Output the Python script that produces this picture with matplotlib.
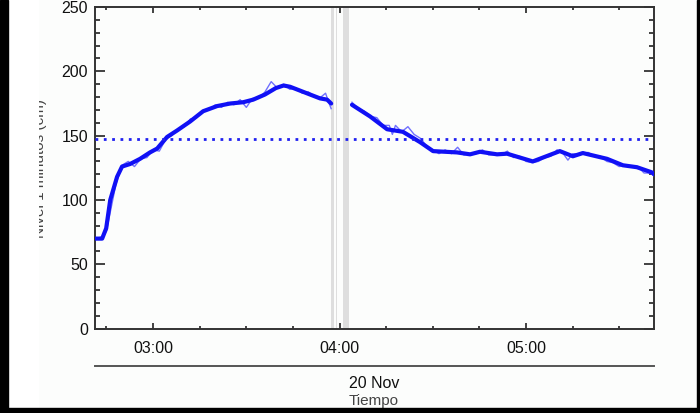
import numpy as np
import matplotlib
matplotlib.use("Agg")
import matplotlib.pyplot as plt
from matplotlib.ticker import MultipleLocator, FixedLocator
from matplotlib.lines import Line2D
from matplotlib.patches import Rectangle

# tiempo en minutos desde 00:00 del 20 Nov
raw_t1 = [161.5, 163, 164, 165, 166, 168, 170, 172, 174, 176, 178, 180, 182, 184, 186, 188, 190, 192,
          194, 196, 198, 200, 202, 204, 206, 208, 210, 212, 214, 216, 218, 220, 222, 224, 226, 228,
          230, 232, 234, 235.5, 236.5, 237.3]
raw_v1 = [70, 71, 72, 76, 88, 112, 127, 130, 126, 132, 133, 139, 138, 147, 150, 155, 157, 163,
          164, 169, 170, 174, 172, 176, 174, 178, 172, 179, 179, 184, 192, 187, 190, 186, 187, 183,
          184, 180, 180, 183, 176, 171]
raw_t2 = [244, 246, 248, 250, 252, 254, 256, 257, 258, 260, 262, 264, 266, 268, 270, 272, 274, 276,
          278, 280, 282, 284, 286, 288, 290, 292, 294, 296, 298, 300, 302, 304, 306, 308, 310, 312,
          313.5, 315, 318, 320, 322, 324, 326, 328, 330, 332, 334, 336, 338, 340, 341.2]
raw_v2 = [176, 171, 169, 165, 164, 158, 158, 151, 158, 153, 157, 151, 148, 142, 139, 136, 139, 136,
          141, 135, 136, 136, 139, 135, 135, 135, 138, 133, 134, 130, 129, 130, 133, 134, 139, 136,
          131, 136, 136, 137, 134, 134, 130, 129, 126, 127, 126, 126, 121, 121, 119]

smooth_t1 = [161.3, 163.6, 164.9, 166.2, 168.4, 170.0, 172.6, 175.8, 179.0, 181.3, 184.5, 187.7,
             191.9, 196.1, 200.6, 204.8, 209.0, 212.2, 216.0, 219.5, 222.0, 224.1, 227.3, 230.5,
             233.7, 236.0, 237.3]
smooth_v1 = [70, 70, 78, 100, 118, 126, 128, 132, 137, 140, 149, 154, 161, 169, 173, 175, 176,
             178, 182, 187, 189, 188, 185, 182, 179, 178, 175]
smooth_t2 = [244.0, 249.8, 255.3, 260.4, 265.9, 270.1, 277.8, 282.0, 285.2, 290.7, 293.9, 302.2,
             310.9, 315.1, 318.3, 326.1, 331.2, 335.7, 340.5, 341.2]
smooth_v2 = [174, 165, 155, 153, 145, 138, 137, 135.5, 137.5, 135.5, 136, 130, 138, 134, 136.5,
             132, 127, 125.5, 121.5, 120]

nivel_medio = 147.5
bandas = [(237.4, 238.2), (238.8, 239.3), (241.0, 243.0)]

xmin, xmax = 161.3, 341.2
W, H = 700, 413

fig = plt.figure(figsize=(7, 4.13), dpi=100, facecolor="#fcfdfc")
ax = fig.add_axes([95 / W, (H - 328.7) / H, (654 - 95) / W, (328.7 - 7) / H])
ax.set_facecolor("#fcfdfc")

for a, b in bandas:
    ax.axvspan(a, b, color="#dedede", lw=0, zorder=1)

ax.plot(raw_t1, raw_v1, color="#7070ff", lw=1.0, zorder=3)
ax.plot(raw_t2, raw_v2, color="#7070ff", lw=1.0, zorder=3)
ax.plot(smooth_t1, smooth_v1, color="#1010f5", lw=3.0, zorder=4, solid_capstyle="round")
ax.plot(smooth_t2, smooth_v2, color="#1010f5", lw=3.0, zorder=4, solid_capstyle="round")
ax.axhline(nivel_medio, color="#2020f0", lw=2, linestyle=(0, (1, 2)), zorder=5)

ax.set_xlim(xmin, xmax)
ax.set_ylim(0, 250)
ax.xaxis.set_major_locator(FixedLocator([180, 240, 300]))
ax.set_xticklabels(["03:00", "04:00", "05:00"])
ax.xaxis.set_minor_locator(MultipleLocator(15))
ax.yaxis.set_major_locator(MultipleLocator(50))
ax.yaxis.set_minor_locator(MultipleLocator(10))

for s in ax.spines.values():
    s.set_color("#333333")
    s.set_linewidth(1.4)
ax.tick_params(which="both", direction="in", top=True, right=True, color="#333333", width=1.3)
ax.tick_params(axis="y", which="major", length=7, pad=5)
ax.tick_params(axis="y", which="minor", length=3.6)
ax.tick_params(axis="x", which="major", length=4.3, pad=9)
ax.tick_params(axis="x", which="minor", length=2.5)
for lab in ax.get_xticklabels() + ax.get_yticklabels():
    lab.set_fontfamily("Liberation Sans")
    lab.set_fontsize(11.5)
    lab.set_color("#111111")

# eje de fecha
fig.add_artist(Line2D([95 / W, 654 / W], [(H - 366) / H, (H - 366) / H], color="#555555", lw=1.4))
fig.text(374 / W, (H - 383) / H, "20 Nov", ha="center", va="center", fontsize=11.5,
         family="Liberation Sans", color="#111111")
fig.text(374 / W, (H - 401) / H, "Tiempo", ha="center", va="center", fontsize=11,
         family="Liberation Sans", color="#444444")

# etiqueta del eje y (recortada como en la imagen original)
fig.text(40 / W, (H - 168) / H, "Nivel 1 minutos (cm)", rotation=90, ha="center",
         va="center", fontsize=11, family="Liberation Sans", color="#444444")
fig.add_artist(Rectangle((8 / W, 5 / H), 30.5 / W, 1 - 5 / H, transform=fig.transFigure,
                         facecolor="white", edgecolor="none", zorder=10))

# marco negro
fig.add_artist(Rectangle((0, 0), 8 / W, 1, transform=fig.transFigure, color="black", zorder=11))
fig.add_artist(Rectangle((697 / W, 0), 3 / W, 1, transform=fig.transFigure, color="black", zorder=11))
fig.add_artist(Rectangle((0, 0), 1, 5 / H, transform=fig.transFigure, color="black", zorder=11))

fig.savefig("out.png", dpi=100, facecolor=fig.get_facecolor())
